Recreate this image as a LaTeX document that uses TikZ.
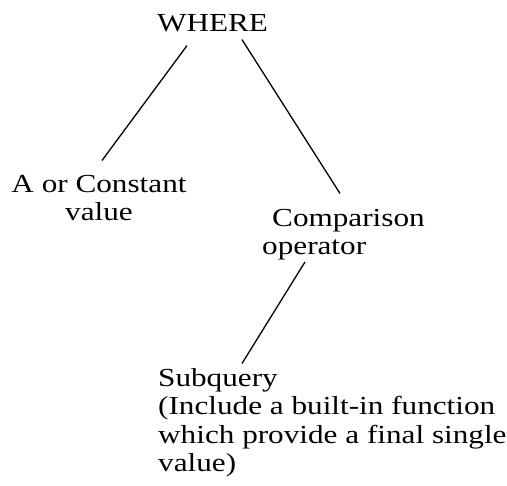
\documentclass[tikz,border=0pt]{standalone}
\usepackage{fontspec}
\setmainfont{Liberation Serif}[FakeStretch=1.2]
\usepackage{tikz}
\tikzstyle{term} = [inner sep=0pt, font=\fontsize{26}{28.5}\selectfont]
\tikzstyle{branch} = [line width=1.3pt]

\begin{document}
\begin{tikzpicture}[x=1pt, y=1pt, node distance=150pt]
\useasboundingbox (0,0) rectangle (507,-486);
\node (where)[term, anchor=base] at (212.5,-32) {WHERE};

\node (const)[term, below of=where, anchor=north, align=center, xshift=-113.5pt, yshift=-1.2pt]{A or Constant\\value};
\draw [branch]([xshift=-25.5pt, yshift=-13pt]where.south) -- ([xshift=3pt, yshift=14.4pt]const.north);

\node (comp)[term, below of=where, anchor=north west, align=left, xshift=49.5pt, yshift=-35.2pt]{\hspace*{10pt}Comparison\\operator};
\draw [branch]([xshift=29.5pt, yshift=-7pt]where.south) -- ([xshift=78pt, yshift=15.4pt]comp.north west);

\node (sub)[term, below of=where, anchor=north west, align=left, xshift=-54.5pt, yshift=-194.2pt]{Subquery\\(Include a built-in function\\which provide a final single\\value)};
\draw [branch]([xshift=43pt, yshift=-1.4pt]comp.south west) -- ([xshift=84pt, yshift=4.4pt]sub.north west);
\end{tikzpicture}
\end{document}
